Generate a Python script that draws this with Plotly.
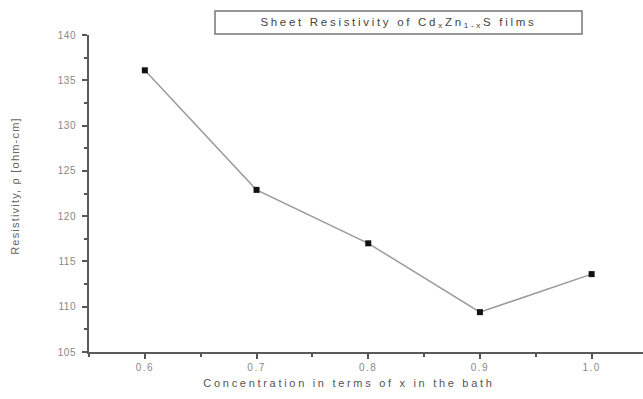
import plotly.graph_objects as go

# Data
concentration = [0.6, 0.7, 0.8, 0.9, 1.0]
resistivity = [136.1, 122.9, 117.0, 109.4, 113.6]

x_ticks = [0.6, 0.7, 0.8, 0.9, 1.0]
x_ticklabels = ["0.6", "0.7", "0.8", "0.9", "1.0"]
y_ticks = [105, 110, 115, 120, 125, 130, 135, 140]

title_text = "Sheet Resistivity of Cd<sub>x</sub>Zn<sub>1-x</sub>S films"
x_title = "Concentration in terms of x in the bath"
y_title = "Resistivity, \u03c1 [ohm-cm]"

fig = go.Figure()
fig.add_trace(go.Scatter(
    x=concentration, y=resistivity, mode="lines+markers",
    line=dict(color="#9a9a9a", width=1.5),
    marker=dict(symbol="square", size=6, color="#111111"),
    showlegend=False,
))

axis_common = dict(
    showgrid=False, zeroline=False, showline=True, linecolor="#5a5a5a", linewidth=2,
    ticks="outside", ticklen=5, tickwidth=1.5, tickcolor="#555555",
    tickfont=dict(family="Liberation Sans, Arial", size=10, color="#888888"),
    mirror=False,
)

fig.update_layout(
    width=643, height=399,
    margin=dict(l=89, r=0, t=35, b=47),
    paper_bgcolor="white", plot_bgcolor="white",
    xaxis=dict(range=[0.55, 1.046], tickvals=x_ticks, ticktext=x_ticklabels,
               minor=dict(dtick=0.05, ticks="outside", ticklen=3, tickcolor="#555555"),
               **axis_common),
    yaxis=dict(range=[105, 140], tickvals=y_ticks, ticklabelstandoff=4,
               minor=dict(dtick=2.5, ticks="outside", ticklen=3, tickcolor="#555555"),
               **axis_common),
    shapes=[dict(type="rect", xref="paper", yref="paper",
                 x0=(215 - 89) / 554, x1=(582 - 89) / 554,
                 y0=(352 - 34) / 317, y1=(352 - 11) / 317,
                 line=dict(color="#777777", width=1.5), fillcolor="white")],
    annotations=[
        dict(text=title_text, xref="paper", yref="paper",
             x=(398 - 89) / 554, y=(352 - 23) / 317, showarrow=False,
             xanchor="center", yanchor="middle",
             font=dict(family="Liberation Sans, Arial", size=11.5, color="#444444")),
        dict(text=x_title, xref="paper", yref="paper",
             x=(349 - 89) / 554, y=(352 - 383) / 317, showarrow=False,
             xanchor="center", yanchor="middle",
             font=dict(family="Liberation Sans, Arial", size=11, color="#555555")),
        dict(text=y_title, xref="paper", yref="paper", textangle=-90,
             x=(15 - 89) / 554, y=(352 - 186) / 317, showarrow=False,
             xanchor="center", yanchor="middle",
             font=dict(family="Liberation Sans, Arial", size=11, color="#666666")),
    ],
)

post = """
var st = document.createElement('style');
st.innerHTML = '.annotation-text{letter-spacing:2.7px;} '
  + '.annotation[data-index="2"] .annotation-text{letter-spacing:1.2px;} '
  + '.xtick text{letter-spacing:1.5px;} .ytick text{letter-spacing:0.5px;}';
document.head.appendChild(st);
"""
fig.write_html("out.html", post_script=post)
